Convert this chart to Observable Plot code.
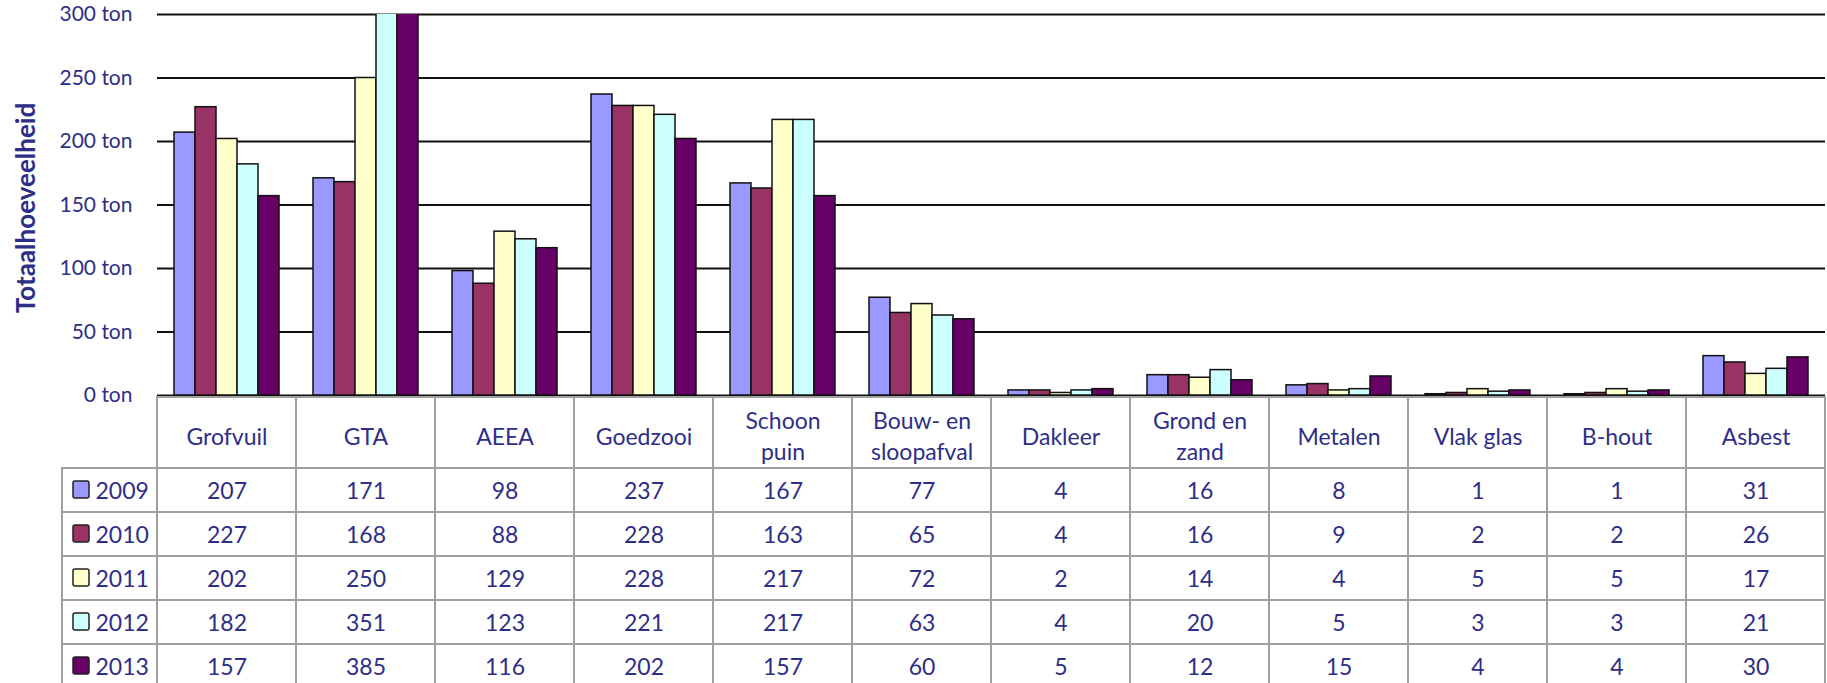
<!DOCTYPE html>
<html><head><meta charset="utf-8">
<script src="https://cdn.jsdelivr.net/npm/d3@7"></script>
<script src="https://cdn.jsdelivr.net/npm/@observablehq/plot@0.6"></script>
<style>
html,body{margin:0;padding:0;background:#fff;overflow:hidden;}
#chart svg{display:block;}
</style></head><body><div id="chart"></div>
<script>
// ---- data ----
const categories = ["Grofvuil","GTA","AEEA","Goedzooi","Schoon puin","Bouw- en sloopafval","Dakleer","Grond en zand","Metalen","Vlak glas","B-hout","Asbest"];
const categoryLabels = ["Grofvuil","GTA","AEEA","Goedzooi","Schoon\npuin","Bouw- en\nsloopafval","Dakleer","Grond en\nzand","Metalen","Vlak glas","B-hout","Asbest"];
const years = ["2009","2010","2011","2012","2013"];
const v2009 = [207,171,98,237,167,77,4,16,8,1,1,31];
const v2010 = [227,168,88,228,163,65,4,16,9,2,2,26];
const v2011 = [202,250,129,228,217,72,2,14,4,5,5,17];
const v2012 = [182,351,123,221,217,63,4,20,5,3,3,21];
const v2013 = [157,385,116,202,157,60,5,12,15,4,4,30];
const yTicks = [0,50,100,150,200,250,300];
const unit = "ton";
const yTitle = "Totaalhoeveelheid";
const colors = ["#9999FF","#993366","#FFFFCC","#CCFFFF","#660066"];

// ---- build ----
const series = {"2009": v2009, "2010": v2010, "2011": v2011, "2012": v2012, "2013": v2013};
const rows = years.flatMap(y => categories.map((c, i) => ({category: c, year: y, value: series[y][i]})));

const W = 1827, ML = 157, MR = 2;
const bw = (W - ML - MR) / categories.length;
const LEG = 95;
const navy = "#2e2e88";
const gray = "#a0a0a0";
const font = "Lato, 'Open Sans', sans-serif";

const chart = Plot.plot({
  width: W, height: 397, marginTop: 14, marginBottom: 2, marginLeft: ML, marginRight: MR,
  style: {fontFamily: font, fontSize: "21px", color: navy, background: "white", overflow: "visible"},
  fx: {domain: categories, padding: 0, axis: null},
  x: {domain: years, paddingInner: 0, paddingOuter: 0.75, axis: null},
  y: {domain: [0, 300], axis: null},
  color: {domain: years, range: colors},
  marks: [
    Plot.ruleY(yTicks, {stroke: "#111", strokeWidth: 2}),
    Plot.barY(rows, {fx: "category", x: "year", y: "value", fill: "year", stroke: "#111", strokeWidth: 1.5, clip: true}),
    Plot.ruleX([categories[0]], {fx: d => d, dx: -bw / 2, stroke: "#111", strokeWidth: 2}),
    Plot.axisY(yTicks, {tickFormat: d => `${d} ${unit}`, tickSize: 0, tickPadding: 25, label: null, fill: navy}),
    Plot.text([yTitle], {fx: () => categories[0], frameAnchor: "left", textAnchor: "middle", dx: -131, dy: 3, rotate: -90, fontWeight: "bold", fontSize: 26, fill: navy})
  ]
});

const header = Plot.plot({
  width: W, height: 71, marginTop: 0, marginBottom: 0, marginLeft: ML, marginRight: MR,
  style: {fontFamily: font, fontSize: "23px", color: navy, background: "white", overflow: "visible"},
  x: {domain: categories, padding: 0, axis: null},
  marks: [
    Plot.cell(categories, {x: d => d, fill: "white", stroke: gray, strokeWidth: 2}),
    Plot.text(categoryLabels, {x: (d, i) => categories[i], text: d => d, lineHeight: 1.35, dy: 2, fill: navy})
  ]
});

const body = Plot.plot({
  width: W, height: 220, marginTop: 0, marginBottom: 0, marginLeft: ML, marginRight: MR,
  style: {fontFamily: font, fontSize: "23px", color: navy, background: "white", overflow: "visible"},
  x: {domain: categories, padding: 0, axis: null},
  y: {domain: years, padding: 0, axis: null},
  color: {domain: years, range: colors},
  marks: [
    Plot.cell(years, {x: () => categories[0], y: d => d, fill: "white", stroke: gray, strokeWidth: 2, insetLeft: -LEG, insetRight: bw}),
    Plot.cell(rows, {x: "category", y: "year", fill: "white", stroke: gray, strokeWidth: 2}),
    Plot.text(rows, {x: "category", y: "year", text: d => String(d.value), fill: navy, dy: 1}),
    Plot.cell(years, {x: () => categories[0], y: d => d, fill: d => d, stroke: "#222", strokeWidth: 1.5, insetLeft: -84, insetRight: bw + 68, insetTop: 13, insetBottom: 14, rx: 2}),
    Plot.text(years, {x: () => categories[0], y: d => d, text: d => d, textAnchor: "start", dx: -(bw / 2 + LEG - 33), dy: 1, fill: navy})
  ]
});

const root = document.getElementById("chart");
root.append(chart, header, body);
</script></body></html>
